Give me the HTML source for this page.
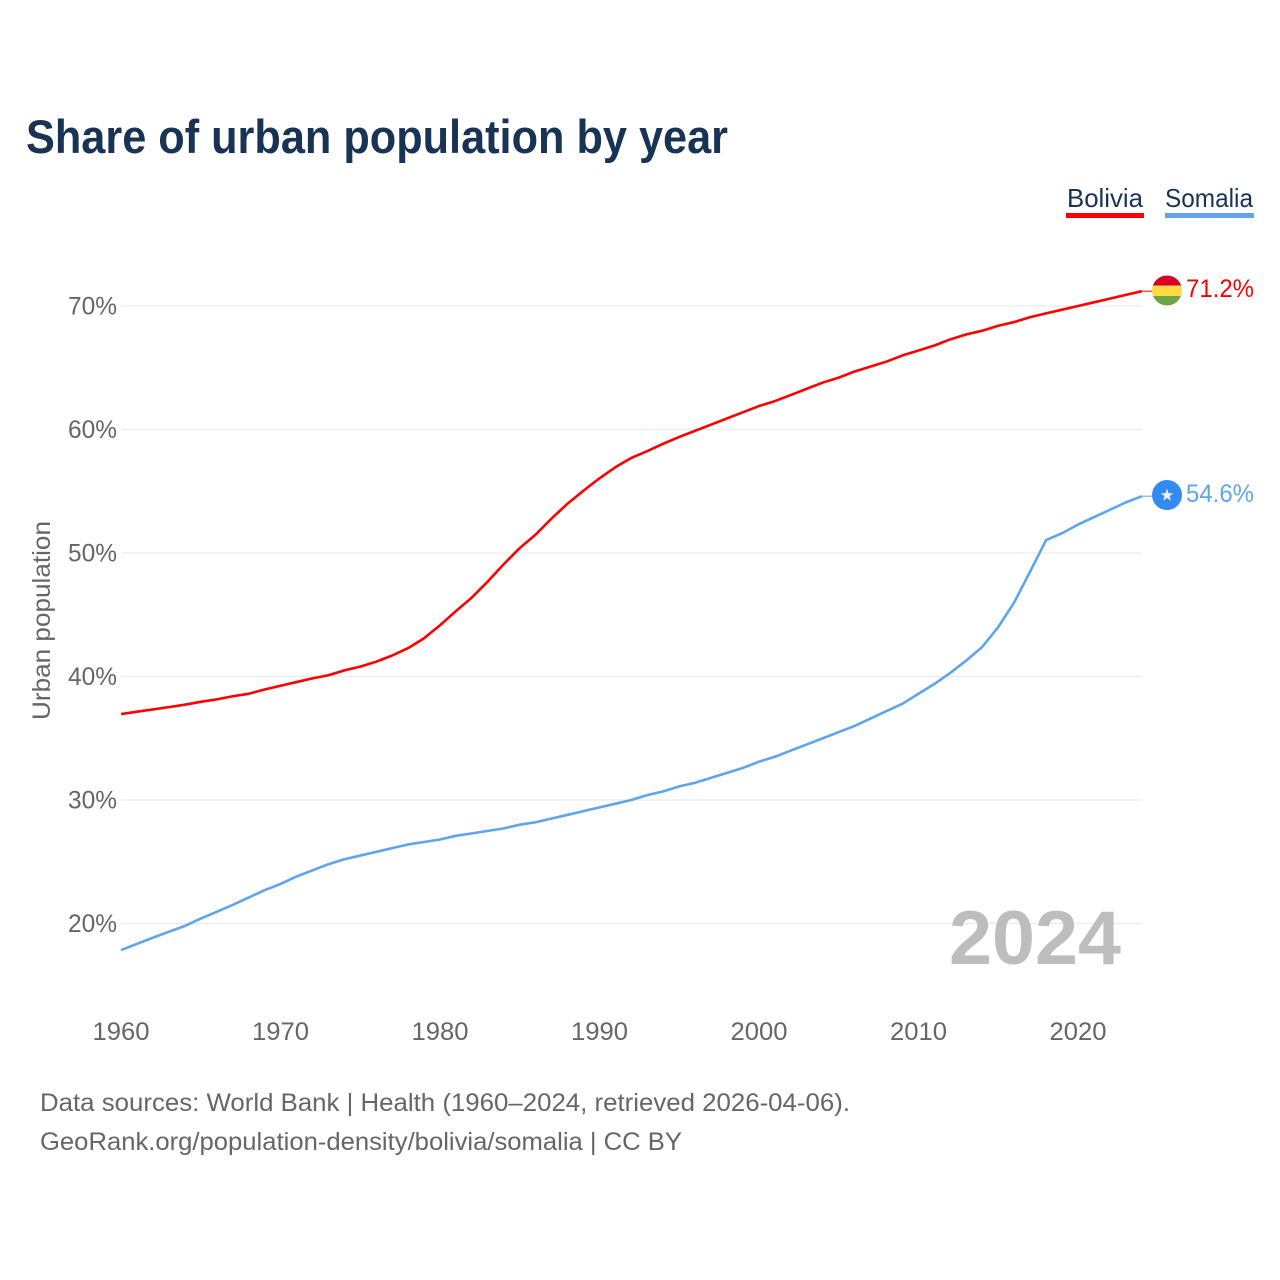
<!DOCTYPE html>
<html lang="en">
<head>
<meta charset="utf-8">
<title>Share of urban population by year</title>
<style>
html,body{margin:0;padding:0;background:#fff;}
svg{display:block;}
text{font-family:"Liberation Sans",sans-serif;}
</style>
</head>
<body>
<svg id="chart" xmlns="http://www.w3.org/2000/svg" width="1280" height="1280" viewBox="0 0 1280 1280">
  <rect x="0" y="0" width="1280" height="1280" fill="#ffffff"/>
  <text x="26" y="153" font-size="47" font-weight="700" fill="#193354" textLength="702" lengthAdjust="spacingAndGlyphs">Share of urban population by year</text>

  <g>
    <text x="1067" y="207" font-size="26" fill="#193354" textLength="76" lengthAdjust="spacingAndGlyphs">Bolivia</text>
    <rect x="1066" y="213" width="78" height="5" fill="#ff0000"/>
  </g>
  <g>
    <text x="1165" y="207" font-size="26" fill="#193354" textLength="88" lengthAdjust="spacingAndGlyphs">Somalia</text>
    <rect x="1165" y="213" width="89" height="5" fill="#5fa5ec"/>
  </g>

  <g id="grid"></g>
  <g id="yticks"></g>
  <g id="xticks"></g>

  <text transform="translate(50,620.5) rotate(-90)" text-anchor="middle" font-size="25" fill="#666666" textLength="199" lengthAdjust="spacingAndGlyphs">Urban population</text>
  <text x="949" y="964" font-size="76" font-weight="700" fill="#bdbdbd" textLength="172" lengthAdjust="spacingAndGlyphs">2024</text>

  <g id="series"></g>

  <g id="flag-bolivia">
    <clipPath id="clip-bolivia"><circle cx="1167" cy="290.5" r="15"/></clipPath>
    <g clip-path="url(#clip-bolivia)">
      <rect x="1152" y="275" width="30" height="10.5" fill="#d80027"/>
      <rect x="1152" y="285.5" width="30" height="10.5" fill="#ffda44"/>
      <rect x="1152" y="296" width="30" height="10" fill="#6da544"/>
    </g>
  </g>
  <g id="flag-somalia">
    <circle cx="1167" cy="495" r="15" fill="#338af3"/>
    <polygon fill="#f0f0f0" points="1167,488.6 1168.6,493.2 1173.3,493.2 1169.5,496.1 1170.9,500.8 1167,498 1163.1,500.8 1164.5,496.1 1160.7,493.2 1165.4,493.2"/>
  </g>

  <text id="value-bolivia" x="1186" y="297" font-size="25" fill="#ff0000" textLength="68" lengthAdjust="spacingAndGlyphs"></text>
  <text id="value-somalia" x="1186" y="502" font-size="25" fill="#5fa5ec" textLength="68" lengthAdjust="spacingAndGlyphs"></text>

  <text x="40" y="1111" font-size="25" fill="#666666" textLength="810" lengthAdjust="spacingAndGlyphs">Data sources: World Bank | Health (1960–2024, retrieved 2026-04-06).</text>
  <text x="40" y="1150" font-size="25" fill="#666666" textLength="642" lengthAdjust="spacingAndGlyphs">GeoRank.org/population-density/bolivia/somalia | CC BY</text>
</svg>
<script>
const startYear = 1960;
const boliviaValues = [36.96,37.15,37.33,37.52,37.72,37.95,38.15,38.4,38.6,38.95,39.25,39.55,39.85,40.1,40.5,40.8,41.2,41.7,42.3,43.1,44.15,45.3,46.4,47.7,49.1,50.4,51.5,52.8,54,55.05,56.05,56.95,57.7,58.25,58.85,59.4,59.9,60.4,60.9,61.4,61.9,62.3,62.8,63.3,63.8,64.2,64.7,65.1,65.5,66,66.4,66.8,67.3,67.7,68,68.4,68.7,69.1,69.4,69.7,70,70.3,70.6,70.9,71.2];
const somaliaValues = [17.85,18.35,18.85,19.33,19.8,20.4,20.95,21.5,22.1,22.7,23.2,23.8,24.3,24.8,25.2,25.5,25.8,26.1,26.4,26.6,26.8,27.1,27.3,27.5,27.7,28,28.2,28.5,28.8,29.1,29.4,29.7,30,30.4,30.7,31.1,31.4,31.8,32.2,32.6,33.1,33.5,34,34.5,35,35.5,36,36.6,37.2,37.8,38.6,39.4,40.3,41.3,42.4,44,46,48.5,51.05,51.6,52.3,52.9,53.5,54.1,54.6];
const yTickValues = [20,30,40,50,60,70];
const xTickValues = [1960,1970,1980,1990,2000,2010,2020];
const boliviaLabel = "71.2%";
const somaliaLabel = "54.6%";

const SVGNS = "http://www.w3.org/2000/svg";
function xScale(year){ return 121 + (year - 1960) * 15.95; }
function yScale(v){ return 306 + (70 - v) * 12.35; }
function make(tag, attrs, parent){
  const el = document.createElementNS(SVGNS, tag);
  for (const k in attrs) el.setAttribute(k, attrs[k]);
  parent.appendChild(el);
  return el;
}
const grid = document.getElementById("grid");
const yticks = document.getElementById("yticks");
const xticks = document.getElementById("xticks");
const series = document.getElementById("series");

yTickValues.forEach(function(v){
  const line = make("line", {x1:121, x2:1142, y1:yScale(v), y2:yScale(v), stroke:"#ececec", "stroke-width":1.2}, grid);
  
  
  const t = make("text", {x:117, y:yScale(v)+8.5, "text-anchor":"end", "font-size":25, fill:"#666666", textLength:49, lengthAdjust:"spacingAndGlyphs"}, yticks);
  
  
  t.textContent = v + "%";
});
xTickValues.forEach(function(y){
  const t = make("text", {x:xScale(y), y:1040, "text-anchor":"middle", "font-size":25, fill:"#666666", textLength:57, lengthAdjust:"spacingAndGlyphs"}, xticks);
  
  
  t.textContent = y;
});
function pathFor(values){
  let d = "";
  values.forEach(function(v, i){
    d += (i ? "L" : "M") + xScale(startYear + i).toFixed(2) + " " + yScale(v).toFixed(2);
  });
  return d;
}
const lineB = make("path", {d:pathFor(boliviaValues), fill:"none", stroke:"#ff0000", "stroke-width":2.6, "stroke-linejoin":"round"}, series);


const lineS = make("path", {d:pathFor(somaliaValues), fill:"none", stroke:"#5fa5ec", "stroke-width":2.6, "stroke-linejoin":"round"}, series);


const lastYear = startYear + boliviaValues.length - 1;
const stubB = make("line", {x1:xScale(lastYear), x2:1153, y1:yScale(boliviaValues[boliviaValues.length-1]), y2:yScale(boliviaValues[boliviaValues.length-1]), stroke:"#ff0000", "stroke-width":1}, series);


const stubS = make("line", {x1:xScale(lastYear), x2:1153, y1:yScale(somaliaValues[somaliaValues.length-1]), y2:yScale(somaliaValues[somaliaValues.length-1]), stroke:"#5fa5ec", "stroke-width":1}, series);


document.getElementById("value-bolivia").textContent = boliviaLabel;
document.getElementById("value-somalia").textContent = somaliaLabel;
</script>
</body>
</html>
